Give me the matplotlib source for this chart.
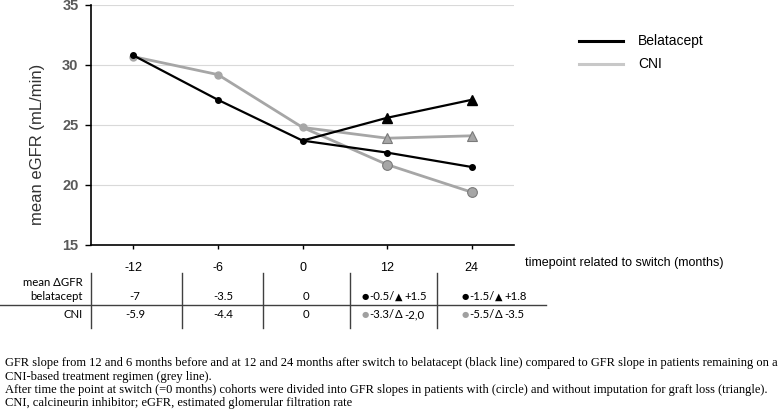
import matplotlib
matplotlib.use("Agg")
import matplotlib.pyplot as plt
from matplotlib.lines import Line2D

# ---- data ----
timepoints = ["-12", "-6", "0", "12", "24"]
bela_pre = [30.8, 27.1, 23.7]            # -12, -6, 0
cni_pre = [30.7, 29.2, 24.8]
bela_circle = [23.7, 22.7, 21.5]         # 0, 12, 24 (with imputation)
bela_triangle = [23.7, 25.6, 27.1]       # 0, 12, 24 (without imputation)
cni_circle = [24.8, 21.7, 19.4]
cni_triangle = [24.8, 23.9, 24.1]

row_labels = ["mean \u0394GFR\nbelatacept", "CNI"]
bela_delta = ["-7", "-3.5", "0"]
cni_delta = ["-5.9", "-4.4", "0"]
bela_post = [("-0.5/", "+1.5"), ("-1.5/", "+1.8")]
cni_post = [("-3.3/", "-2,0"), ("-5.5/", "-3.5")]

caption = [
    "GFR slope from 12 and 6 months before and at 12 and 24 months after switch to belatacept (black line) compared to GFR slope in patients remaining on a",
    "CNI-based treatment regimen (grey line).",
    "After time the point at switch (=0 months) cohorts were divided into GFR slopes in patients with (circle) and without imputation for graft loss (triangle).",
    "CNI, calcineurin inhibitor; eGFR, estimated glomerular filtration rate",
]

W, H = 778, 413
fig = plt.figure(figsize=(W / 100, H / 100), dpi=100)

def fx(px):
    return px / W

def fy(py):
    return 1 - py / H

ax = fig.add_axes([fx(91), fy(245), fx(514) - fx(91), fy(5) - fy(245)])
x_pre = [0, 1, 2]
x_post = [2, 3, 4]
GRAY = "#a6a6a6"
EDGE = "#7a7a7a"

ax.plot(x_pre, cni_pre, color=GRAY, lw=2, marker="o", ms=5, mfc=GRAY, mec=GRAY, zorder=3)
ax.plot(x_pre, bela_pre, color="black", lw=1.6, marker="o", ms=4, zorder=4)
ax.plot(x_post, cni_circle, color=GRAY, lw=2, zorder=3)
ax.plot(x_post[1:], cni_circle[1:], ls="none", marker="o", ms=7, mfc=GRAY, mec=EDGE, mew=0.8, zorder=5)
ax.plot(x_post, cni_triangle, color=GRAY, lw=2, zorder=3)
ax.plot(x_post[1:], cni_triangle[1:], ls="none", marker="^", ms=7.5, mfc=GRAY, mec=EDGE, mew=0.8, zorder=5)
ax.plot(x_post, bela_circle, color="black", lw=1.6, zorder=4)
ax.plot(x_post[1:], bela_circle[1:], ls="none", marker="o", ms=4, color="black", zorder=5)
ax.plot(x_post, bela_triangle, color="black", lw=1.6, zorder=4)
ax.plot(x_post[1:], bela_triangle[1:], ls="none", marker="^", ms=7, color="black", zorder=5)

ax.set_xlim(-0.5, 4.5)
ax.set_ylim(15, 35)
ax.set_yticks([15, 20, 25, 30, 35])
ax.set_xticks(range(len(timepoints)))
ax.set_xticklabels(timepoints, fontsize=9, family="Liberation Sans")
for lbl in ax.get_yticklabels():
    lbl.set_fontsize(10.5)
    lbl.set_fontweight("bold")
    lbl.set_color("#595959")
    lbl.set_family("Liberation Sans")
ax.grid(axis="y", color="#d9d9d9", lw=0.8)
ax.set_axisbelow(True)
ax.spines["top"].set_visible(False)
ax.spines["right"].set_visible(False)
ax.spines["left"].set_linewidth(1.2)
ax.spines["bottom"].set_linewidth(1.2)
ax.tick_params(axis="x", direction="out", length=3, width=1, pad=9)
ax.tick_params(axis="y", direction="out", length=4, width=1, pad=5)
ax.set_ylabel("mean eGFR (mL/min)", fontsize=12, color="#333333", family="Liberation Sans")
ax.yaxis.set_label_coords(-0.109, 0.42)

fig.text(fx(525), fy(263), "timepoint related to switch (months)", fontsize=9,
         family="Liberation Sans", va="center", ha="left")

# legend
fig.add_artist(Line2D([fx(579), fx(623)], [fy(41), fy(41)], color="black", lw=2.2))
fig.add_artist(Line2D([fx(579), fx(623)], [fy(64), fy(64)], color="#c8c8c8", lw=2.2))
fig.text(fx(638), fy(41), "Belatacept", fontsize=10, family="Liberation Sans", va="center")
fig.text(fx(638), fy(64), "CNI", fontsize=10, family="Liberation Sans", va="center")

# table
TF = ["Lato", "DejaVu Sans"]
tfs = 8.2
fig.add_artist(Line2D([0, fx(546)], [fy(305), fy(305)], color="#404040", lw=1))
for vx in [91, 182, 263, 350, 437]:
    fig.add_artist(Line2D([fx(vx), fx(vx)], [fy(273), fy(328)], color="#404040", lw=1))
fig.text(fx(83), fy(283), "mean \u0394GFR", fontsize=tfs, family=TF, ha="right", va="center")
fig.text(fx(83), fy(297), "belatacept", fontsize=tfs, family=TF, ha="right", va="center")
fig.text(fx(83), fy(315), row_labels[1], fontsize=tfs, family=TF, ha="right", va="center")
col_centers = [135, 223, 306]
for cx, b, c in zip(col_centers, bela_delta, cni_delta):
    fig.text(fx(cx), fy(297), b, fontsize=tfs, family=TF, ha="center", va="center")
    fig.text(fx(cx), fy(315), c, fontsize=tfs, family=TF, ha="center", va="center")

post_starts = [362, 462]
for sx, (b1, b2), (c1, c2) in zip(post_starts, bela_post, cni_post):
    fig.text(fx(sx), fy(297), "\u25CF", fontsize=6, family="DejaVu Sans", ha="left", va="center", color="black")
    fig.text(fx(sx + 7), fy(297), b1, fontsize=tfs, family=TF, ha="left", va="center")
    fig.text(fx(sx + 33), fy(297), "\u25B2", fontsize=7, family="DejaVu Sans", ha="left", va="center", color="black")
    fig.text(fx(sx + 42), fy(297), b2, fontsize=tfs, family=TF, ha="left", va="center")
    fig.text(fx(sx), fy(315), "\u25CF", fontsize=6, family="DejaVu Sans", ha="left", va="center", color="#a0a0a0")
    fig.text(fx(sx + 7), fy(315), c1, fontsize=tfs, family=TF, ha="left", va="center")
    fig.text(fx(sx + 33), fy(315), "\u0394", fontsize=tfs, family=TF, ha="left", va="center", color="black")
    fig.text(fx(sx + 42), fy(315), c2, fontsize=tfs, family=TF, ha="left", va="center")

# caption
cap_y = [363, 377, 390, 403]
for cy, line in zip(cap_y, caption):
    fig.text(fx(5), fy(cy), line, fontsize=9.0, family="Liberation Serif", ha="left", va="center")

fig.savefig("out.png", dpi=100)
